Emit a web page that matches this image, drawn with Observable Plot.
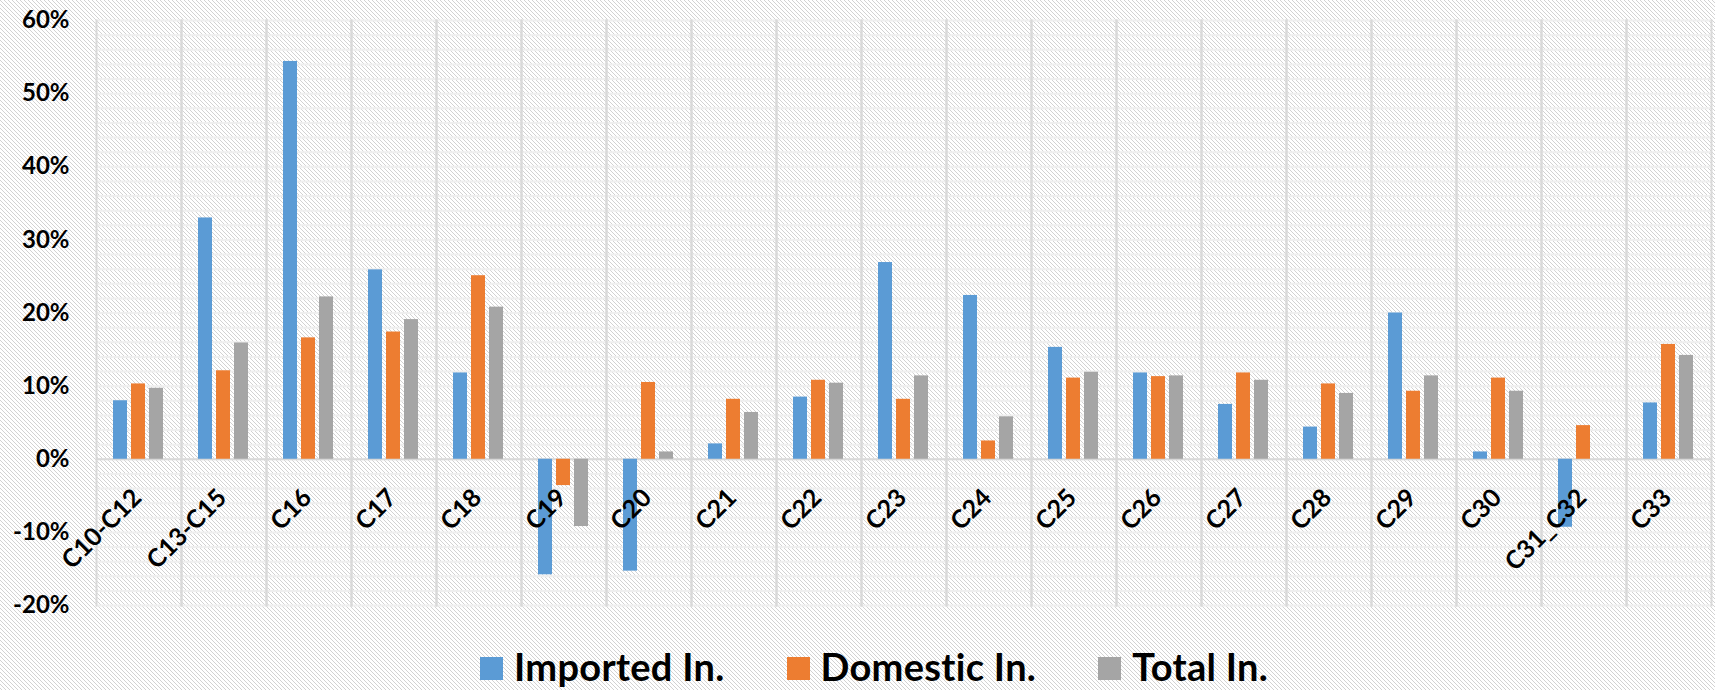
<!DOCTYPE html>
<html>
<head>
<meta charset="utf-8">
<script src="https://cdn.jsdelivr.net/npm/d3@7"></script>
<script src="https://cdn.jsdelivr.net/npm/@observablehq/plot@0.6"></script>
<style>
  html, body {
    margin: 0;
    padding: 0;
    width: 1715px;
    height: 690px;
    overflow: hidden;
    /* light downward-diagonal hatch behind the whole chart */
    background-color: #ffffff;
    background-image: url("data:image/svg+xml,%3Csvg xmlns='http://www.w3.org/2000/svg' width='4' height='4'%3E%3Cpath d='M0 0h1v1H0zM1 1h1v1H1zM2 2h1v1H2zM3 3h1v1H3z' fill='%23d2d2d2'/%3E%3C/svg%3E");
    font-family: Lato, "Open Sans", sans-serif;
  }
  #chart svg { display: block; }
  #legend {
    display: flex;
    align-items: flex-start;
    padding-left: 480px;
    padding-top: 21px;
    gap: 62px;
    font-weight: 700;
    font-size: 38px;
    line-height: 38px;
    letter-spacing: 0.3px;
    color: #000;
  }
  #legend .item { display: flex; align-items: flex-start; }
  #legend .swatch { width: 23px; height: 23px; margin-top: 10px; margin-right: 11px; }
</style>
</head>
<body>
<div id="chart"></div>
<div id="legend"></div>
<script>
// Industry groups along the horizontal axis
const categories = ["C10-C12", "C13-C15", "C16", "C17", "C18", "C19", "C20", "C21", "C22", "C23",
                    "C24", "C25", "C26", "C27", "C28", "C29", "C30", "C31_C32", "C33"];

// Growth rates (%) per series
const imported = [8.0, 33.0, 54.4, 25.9, 11.8, -15.8, -15.3, 2.1, 8.5, 26.9,
                  22.4, 15.3, 11.8, 7.5, 4.4, 20.0, 1.0, -9.3, 7.7];
const domestic = [10.3, 12.1, 16.6, 17.4, 25.1, -3.6, 10.5, 8.2, 10.8, 8.2,
                  2.5, 11.1, 11.3, 11.8, 10.3, 9.3, 11.1, 4.6, 15.7];
const total    = [9.7, 15.9, 22.2, 19.1, 20.8, -9.2, 1.0, 6.4, 10.4, 11.4,
                  5.8, 11.9, 11.4, 10.8, 9.0, 11.4, 9.3, null, 14.2];

const seriesNames  = ["Imported In.", "Domestic In.", "Total In."];
const seriesColors = ["#5b9bd5", "#ed7d31", "#a5a5a5"];

// Axis ticks (labelled) and the finer horizontal grid
const yTicks = [-20, -10, 0, 10, 20, 30, 40, 50, 60];
const yGrid  = d3.range(-20, 61, 2);

const seriesValues = [imported, domestic, total];
const rows = categories.flatMap((category, i) =>
  seriesNames.map((series, s) => ({category, series, value: seriesValues[s][i]}))
).filter(d => d.value != null);

const chart = Plot.plot({
  width: 1715,
  height: 626,
  marginLeft: 92,
  marginRight: 1,
  marginTop: 20,
  marginBottom: 21,
  style: {
    background: "transparent",
    fontFamily: "Lato, 'Open Sans', sans-serif",
    fontSize: "24px",
    fontWeight: "bold",
    color: "#000"
  },
  fx: {domain: categories, padding: 0, axis: null},
  x: {domain: seriesNames, paddingInner: 0.21, paddingOuter: 0.85, axis: null},
  y: {domain: [-20, 60], axis: null},
  color: {domain: seriesNames, range: seriesColors},
  marks: [
    Plot.gridY(yGrid, {stroke: "#efefef", strokeOpacity: 1, strokeWidth: 2}),
    Plot.frame({anchor: "left", stroke: "#d9d9d9", strokeWidth: 2}),
    Plot.frame({anchor: "right", stroke: "#d9d9d9", strokeWidth: 2}),
    Plot.ruleY([0], {stroke: "#d9d9d9", strokeWidth: 2}),
    Plot.barY(rows, {fx: "category", x: "series", y: "value", fill: "series"}),
    Plot.axisY(yTicks, {
      tickSize: 0,
      tickPadding: 27,
      tickFormat: d => `${d}%`,
      label: null,
      fill: "#000"
    }),
    Plot.text(categories, {
      fx: d => d,
      y: 0,
      text: d => d,
      rotate: -45,
      textAnchor: "end",
      lineAnchor: "bottom",
      fontSize: 25,
      dx: 4,
      dy: 40,
      fill: "#000"
    })
  ]
});

document.getElementById("chart").append(chart);

// Legend below the plot
const legend = d3.select("#legend");
seriesNames.forEach((name, i) => {
  const item = legend.append("div").attr("class", "item");
  item.append("span").attr("class", "swatch").style("background", seriesColors[i]);
  item.append("span").text(name);
});
</script>
</body>
</html>
